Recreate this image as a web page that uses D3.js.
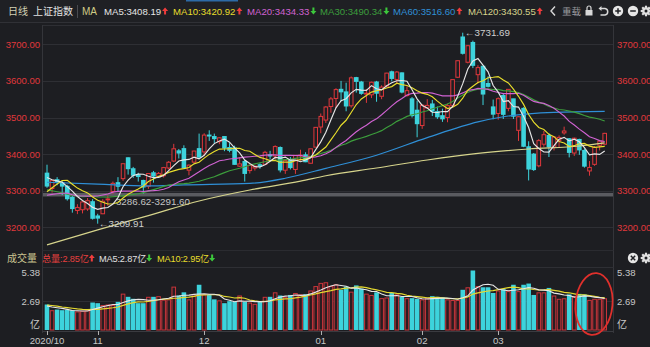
<!DOCTYPE html>
<html><head><meta charset="utf-8">
<script src="https://cdn.jsdelivr.net/npm/d3@7"></script>
<style>
html,body{margin:0;padding:0;background:#1d1e22;overflow:hidden;}
svg{display:block;}
text{font-family:"Liberation Sans","Noto Sans CJK SC",sans-serif;}
</style></head><body>
<svg id="c" width="650" height="347"></svg>
<script>
// Trading days per month
const octDays = [19,20,21,22,23,26,27,28,29,30];
const novDays = [2,3,4,5,6,9,10,11,12,13,16,17,18,19,20,23,24,25,26,27,30];
const decDays = [1,2,3,4,7,8,9,10,11,14,15,16,17,18,21,22,23,24,25,28,29,30,31];
const janDays = [4,5,6,7,8,11,12,13,14,15,18,19,20,21,22,25,26,27,28,29];
const febDays = [1,2,3,4,5,8,9,10,18,19,22,23,24,25,26];
const marDays = [1,2,3,4,5,8,9,10,11,12,15,16,17,18,19,22,23,24,25,26,29,30];

const opens = [3348,3306,3330,3322,3312,3282,3246,3248,3250,3270,
 3231,3237,3275,3298,3322,3333,3390,3360,3343,3328,3312,3349,3338,3341,3362,3381,3409,3415,3356,3378,3415,
 3406,3452,3448,3434,3448,3418,3417,3367,3380,3355,3362,3371,3372,3398,3395,3418,3356,3384,3358,3397,3398,3375,3419,
 3474,3493,3530,3552,3577,3570,3532,3609,3597,3564,3562,3597,3558,3586,3625,3604,3622,3560,3551,3520,
 3478,3526,3537,3516,3505,3500,3532,3610,3720,3651,3705,3617,3640,3593,3529,
 3511,3560,3525,3551,3465,3525,3420,3400,3368,3427,3451,3419,3437,3458,3442,3403,3440,3410,3354,3372,3424,3427];
const highs = [3371,3330,3337,3326,3316,3285,3263,3272,3280,3277,
 3237,3277,3286.62,3325,3337,3374,3391,3365,3349,3330,3347,3354,3351,3365,3381,3428,3414,3424,3372,3409,3456,
 3457,3465,3456,3446,3448,3430,3423,3391,3384,3372,3368,3375,3409,3409,3424,3421,3384,3392,3397,3412,3405,3415,3474,
 3511,3531,3556,3580,3600,3595,3612,3611,3600,3578,3598,3600,3588,3622,3628,3627,3623,3585,3556,3546,
 3536,3550,3548,3530,3524,3538,3604,3656,3731.69,3697,3710,3643,3641,3613,3549,
 3555,3567,3577,3551,3503,3528,3435,3403,3441,3463,3457,3447,3451,3475,3444,3445,3442,3416,3381,3422,3436,3458];
const lows = [3308,3295,3315,3288,3273,3240,3236,3238,3245,3221,
 3209.91,3236,3259,3291.60,3296,3327,3344,3335,3325,3292,3305,3322,3336,3336,3358,3378,3388,3360,3342,3375,3389,
 3394,3436,3430,3427,3408,3405,3371,3365,3325,3347,3355,3360,3370,3385,3384,3350,3346,3358,3346,3382,3378,3374,3419,
 3457,3485,3513,3526,3544,3517,3527,3568,3562,3540,3553,3543,3550,3582,3599,3594,3566,3557,3500,3446,
 3469,3524,3504,3496,3488,3487,3532,3608,3672,3648,3635,3593,3534,3582,3495,
 3494,3496,3517,3496,3436,3419,3328,3354,3364,3420,3392,3410,3417,3453,3391,3395,3398,3363,3341,3368,3410,3424];
const closes = [3312.67,3328.10,3325.03,3312.50,3278.00,3251.12,3254.32,3269.24,3272.74,3224.53,
 3225.12,3271.07,3277.44,3320.13,3312.16,3373.73,3360.15,3342.20,3338.68,3310.10,3346.97,3339.90,3347.30,3363.09,3377.73,3414.49,3402.82,3362.33,3369.73,3408.31,3391.76,
 3451.94,3449.38,3442.14,3444.58,3416.60,3410.18,3371.96,3373.28,3347.19,3369.12,3367.23,3366.98,3404.87,3394.90,3420.57,3356.78,3382.32,3363.11,3396.56,3397.29,3379.04,3414.45,3473.07,
 3502.96,3528.68,3550.88,3576.20,3570.11,3531.50,3608.34,3598.65,3565.90,3566.38,3596.22,3566.33,3583.09,3621.26,3606.75,3624.24,3569.43,3573.34,3505.18,3483.07,
 3533.68,3533.05,3517.31,3501.86,3496.33,3532.44,3603.49,3655.09,3675.36,3696.17,3642.44,3636.36,3564.08,3585.05,3509.08,
 3551.40,3508.59,3576.90,3503.49,3501.99,3421.41,3359.29,3357.74,3436.83,3453.08,3419.95,3446.73,3445.55,3463.07,3404.66,3443.44,3411.51,3367.06,3363.59,3418.33,3435.30,3456.68];
// Closes of the 29 sessions before the first candle (for the short moving averages)
const priorCloses = [3395.68,3410.61,3404.80,3384.98,3355.37,3292.59,3316.42,3254.63,3234.82,3260.35,
 3278.81,3295.68,3283.92,3270.44,3338.09,3316.94,3274.30,3279.71,3223.18,3219.42,
 3217.53,3224.36,3218.05,3272.08,3358.47,3359.75,3340.53,3332.18,3336.36];
// Volume in 亿
const volumes = [2.28,1.76,1.82,1.76,1.79,1.76,1.65,1.71,1.76,2.46,
 2.40,2.23,2.28,2.23,2.52,3.27,2.98,2.80,2.40,2.40,2.98,2.98,3.04,2.72,2.75,3.91,3.10,3.39,2.75,3.10,4.08,
 3.21,3.15,2.75,2.66,2.40,2.58,2.52,3.10,2.52,2.46,2.34,2.58,2.98,2.98,3.39,3.10,2.98,3.15,3.33,3.21,3.21,3.56,3.96,
 4.25,4.31,3.96,4.13,3.62,3.91,3.45,4.02,3.73,3.27,3.15,3.39,2.86,2.92,3.33,3.21,2.98,2.86,2.86,2.80,
 2.75,2.86,3.04,2.98,2.92,2.75,2.69,2.69,3.62,3.85,5.38,3.96,3.85,3.85,3.33,
 3.56,3.68,3.50,4.08,3.50,4.08,4.19,3.15,3.39,3.39,3.79,3.10,2.80,2.85,3.20,3.05,3.25,3.20,2.70,2.80,2.80,2.85];
const priorVolumes = [2.10,2.35,2.60,2.40,2.30,2.20,2.15,2.05,2.25];
// Long moving averages, read at selected sessions
const ma60Index = [0,10,20,27,40,47,55,65,75,85,90,100,110];
const ma60Value = [3323,3318,3313,3316,3320,3334,3361,3397,3445,3488,3502,3514,3516.60];
const ma120Index = [0,10,20,30,40,50,55,65,75,85,95,105,110];
const ma120Value = [3152,3193,3232,3272,3302,3326,3341,3362,3384,3402,3414,3422,3430.55];
const priceTicks = [3200,3300,3400,3500,3600,3700];

const monthKeys = [["2020",10,octDays],["2020",11,novDays],["2020",12,decDays],["2021",1,janDays],["2021",2,febDays],["2021",3,marDays]];
const dates = [];
monthKeys.forEach(([y,m,days]) => days.forEach(d => dates.push({y, m, d})));
const n = closes.length;

const RED = "#e0383c", CYAN = "#3dd3dc", BG = "#1d1e22", GRID = "#2e2f34";
const C_MA5="#e6e6e6", C_MA10="#e8de2c", C_MA20="#d062d2", C_MA30="#3c9e3c", C_MA60="#2f8fd6", C_MA120="#d6d48c";

const svg = d3.select("#c");
svg.append("rect").attr("width",650).attr("height",347).attr("fill",BG);

const left = 42.5, right = 613.5;
const x = d3.scaleLinear().domain([0, n-1]).range([47, 604.7]);
const y = d3.scaleLinear().domain([3200, 3700]).range([227.3, 44.3]);
const vmax = d3.max(volumes);
const vy = d3.scaleLinear().domain([0, vmax]).range([330, 271]);

function sma(arr, len, prior){
  const full = prior.concat(arr), p = prior.length;
  return arr.map((_, i) => { const s = i + p - len + 1; return s < 0 ? null : d3.mean(full.slice(s, i + p + 1)); });
}
const ma5 = sma(closes,5,priorCloses), ma10 = sma(closes,10,priorCloses),
      ma20 = sma(closes,20,priorCloses), ma30 = sma(closes,30,priorCloses);
const vma5 = sma(volumes,5,priorVolumes), vma10 = sma(volumes,10,priorVolumes);

// ---- header bar
const hdr = svg.append("g");
hdr.append("rect").attr("x",0).attr("y",0).attr("width",650).attr("height",22).attr("fill","#1f2024");
hdr.append("rect").attr("x",186).attr("y",0).attr("width",52).attr("height",1.5).attr("fill","#2d6aa6");
hdr.append("line").attr("x1",0).attr("x2",650).attr("y1",22.5).attr("y2",22.5).attr("stroke","#303136");
hdr.append("text").attr("x",8).attr("y",15).attr("font-size",10).attr("fill","#d4d2b4").text("日线");
hdr.append("text").attr("x",33).attr("y",15).attr("font-size",10).attr("fill","#e2e2e2").text("上证指数");
hdr.append("line").attr("x1",77.5).attr("x2",77.5).attr("y1",5).attr("y2",18).attr("stroke","#4a4b50");
hdr.append("text").attr("x",82).attr("y",15).attr("font-size",10).attr("fill","#cfcb86").text("MA");

const last = a => a[a.length-1], prev = a => a[a.length-2];
const maItems = [
  {label:"MA5", v:last(ma5), up:last(ma5)>=prev(ma5), c:C_MA5, x0:104},
  {label:"MA10", v:last(ma10), up:last(ma10)>=prev(ma10), c:C_MA10, x0:173},
  {label:"MA20", v:last(ma20), up:last(ma20)>=prev(ma20), c:C_MA20, x0:247},
  {label:"MA30", v:last(ma30), up:last(ma30)>=prev(ma30), c:C_MA30, x0:320},
  {label:"MA60", v:last(ma60Value), up:last(ma60Value)>=prev(ma60Value), c:C_MA60, x0:393},
  {label:"MA120", v:last(ma120Value), up:last(ma120Value)>=prev(ma120Value), c:C_MA120, x0:468}
];
function arrow(g, ax, ay, up){
  // small solid arrow glyph
  const col = up ? "#f03c3c" : "#3cc83c";
  const p = up
    ? `M${ax},${ay-7} L${ax+3},${ay-3.5} L${ax+1},${ay-3.5} L${ax+1},${ay} L${ax-1},${ay} L${ax-1},${ay-3.5} L${ax-3},${ay-3.5} Z`
    : `M${ax},${ay} L${ax+3},${ay-3.5} L${ax+1},${ay-3.5} L${ax+1},${ay-7} L${ax-1},${ay-7} L${ax-1},${ay-3.5} L${ax-3},${ay-3.5} Z`;
  g.append("path").attr("d",p).attr("fill",col);
}
maItems.forEach(it => {
  const t = hdr.append("text").attr("x",it.x0).attr("y",15).attr("font-size",9.6).attr("fill",it.c)
    .text(`${it.label}:${it.v.toFixed(2)}`);
  const w = t.node().getComputedTextLength();
  arrow(hdr, it.x0 + w + 4, 14.5, it.up);
});
// toolbar glyphs
hdr.append("path").attr("d","M555,6.5 L551,11 L555,15.5").attr("fill","none").attr("stroke","#d8d8d8").attr("stroke-width",1.4);
hdr.append("text").attr("x",562).attr("y",15).attr("font-size",9.5).attr("fill","#9a9a9e").text("重载");
hdr.append("rect").attr("x",585.5).attr("y",10).attr("width",7).attr("height",5.5).attr("fill","#d8d8d8");
hdr.append("path").attr("d","M587,10 L587,8 A2,2 0 0 1 591,8 L591,10").attr("fill","none").attr("stroke","#d8d8d8").attr("stroke-width",1.2);
hdr.append("path").attr("d","M600,8.5 L605,8.5 A3.3,3.3 0 0 1 605,15 L600.5,15").attr("fill","none").attr("stroke","#d8d8d8").attr("stroke-width",1.5);
hdr.append("path").attr("d","M598.5,8.5 L601.5,6 L601.5,11 Z").attr("fill","#d8d8d8");
[[618,"+"],[633,"-"]].forEach(([cx,s])=>{
  hdr.append("circle").attr("cx",cx).attr("cy",11).attr("r",5.2).attr("fill","#e6e6e6");
  hdr.append("line").attr("x1",cx-2.8).attr("x2",cx+2.8).attr("y1",11).attr("y2",11).attr("stroke","#1f2024").attr("stroke-width",1.5);
  if(s==="+") hdr.append("line").attr("x1",cx).attr("x2",cx).attr("y1",8.2).attr("y2",13.8).attr("stroke","#1f2024").attr("stroke-width",1.5);
});
function gear(g,cx,cy){
  for(let k=0;k<8;k++){
    const a=k*Math.PI/4;
    g.append("line").attr("x1",cx).attr("y1",cy).attr("x2",cx+5.3*Math.cos(a)).attr("y2",cy+5.3*Math.sin(a)).attr("stroke","#e0e0e0").attr("stroke-width",2.2);
  }
  g.append("circle").attr("cx",cx).attr("cy",cy).attr("r",3.8).attr("fill","#e0e0e0");
  g.append("circle").attr("cx",cx).attr("cy",cy).attr("r",1.5).attr("fill","#1f2024");
}
gear(hdr,646,11);

// ---- price panel frame and grid
const plot = svg.append("g");
plot.append("line").attr("x1",left).attr("x2",right).attr("y1",25.5).attr("y2",25.5).attr("stroke",GRID);
priceTicks.forEach(t=>{
  plot.append("line").attr("x1",left).attr("x2",right).attr("y1",Math.round(y(t))+0.5).attr("y2",Math.round(y(t))+0.5).attr("stroke",GRID);
  plot.append("text").attr("x",40).attr("y",y(t)+3.4).attr("text-anchor","end").attr("font-size",9.5).attr("fill",RED).text(d3.format(".2f")(t));
  plot.append("text").attr("x",617).attr("y",y(t)+3.4).attr("font-size",9.5).attr("fill",RED).text(d3.format(".2f")(t));
});
[left,right].forEach(xx=>plot.append("line").attr("x1",xx).attr("x2",xx).attr("y1",25).attr("y2",333).attr("stroke","#34353a"));

svg.append("clipPath").attr("id","pc").append("rect").attr("x",left+0.5).attr("y",26).attr("width",right-left-1).attr("height",224);

// unfilled upward gaps
const gaps = [];
for(let i=1;i<n;i++){
  if(lows[i] > highs[i-1]){
    const filled = lows.slice(i+1).some(l => l <= highs[i-1]);
    if(!filled) gaps.push({i, lo:highs[i-1], hi:lows[i]});
  }
}
gaps.forEach(g=>{
  const y0 = y(g.hi), y1 = y(g.lo), mid=(y0+y1)/2, h=Math.max(3.6,y1-y0);
  plot.append("rect").attr("x",left+0.5).attr("y",mid-h/2).attr("width",right-left-1).attr("height",h).attr("fill","#5a5b60");
  plot.append("text").attr("x",x(g.i)+3).attr("y",mid+10).attr("font-size",9.8).attr("fill","#c4c4c4")
    .text(`${g.lo.toFixed(2)}-${g.hi.toFixed(2)}`);
});

// candles
const cw = 3.6;
const cg = plot.append("g").attr("clip-path","url(#pc)");
for(let i=0;i<n;i++){
  const up = closes[i] >= opens[i];
  const col = up ? RED : CYAN;
  const cx = x(i);
  const top = y(Math.max(opens[i],closes[i])), bot = y(Math.min(opens[i],closes[i]));
  if(up){
    cg.append("line").attr("x1",cx).attr("x2",cx).attr("y1",y(highs[i])).attr("y2",top).attr("stroke",col);
    cg.append("line").attr("x1",cx).attr("x2",cx).attr("y1",bot).attr("y2",y(lows[i])).attr("stroke",col);
    cg.append("rect").attr("x",cx-cw/2).attr("y",top).attr("width",cw).attr("height",Math.max(0.8,bot-top))
      .attr("fill",BG).attr("stroke",col).attr("stroke-width",1);
  } else {
    cg.append("line").attr("x1",cx).attr("x2",cx).attr("y1",y(highs[i])).attr("y2",y(lows[i])).attr("stroke",col);
    cg.append("rect").attr("x",cx-cw/2-0.5).attr("y",top-0.5).attr("width",cw+1).attr("height",Math.max(1.2,bot-top+1)).attr("fill",col);
  }
}

// moving averages
const lineGen = d3.line().defined(d=>d[1]!=null).x(d=>x(d[0])).y(d=>y(d[1]));
const smooth = d3.line().curve(d3.curveMonotoneX).x(d=>x(d[0])).y(d=>y(d[1]));
const lg = plot.append("g").attr("clip-path","url(#pc)").attr("fill","none").attr("stroke-width",1.15);
lg.append("path").attr("d",smooth(ma120Index.map((k,j)=>[k,ma120Value[j]]))).attr("stroke",C_MA120);
lg.append("path").attr("d",smooth(ma60Index.map((k,j)=>[k,ma60Value[j]]))).attr("stroke",C_MA60);
lg.append("path").attr("d",lineGen(ma30.map((v,i)=>[i,v]))).attr("stroke",C_MA30);
lg.append("path").attr("d",lineGen(ma20.map((v,i)=>[i,v]))).attr("stroke",C_MA20);
lg.append("path").attr("d",lineGen(ma10.map((v,i)=>[i,v]))).attr("stroke",C_MA10);
lg.append("path").attr("d",lineGen(ma5.map((v,i)=>[i,v]))).attr("stroke",C_MA5);

// extreme labels
const iMax = d3.maxIndex(highs), iMin = d3.minIndex(lows);
plot.append("text").attr("x",x(iMax)+2).attr("y",y(highs[iMax])+3.5).attr("font-size",9.8).attr("fill","#cfcfcf").text("←"+highs[iMax].toFixed(2));
plot.append("text").attr("x",x(iMin)+1).attr("y",y(lows[iMin])+3.5).attr("font-size",9.8).attr("fill","#cfcfcf").text("←"+lows[iMin].toFixed(2));

// ---- volume panel
const vg = svg.append("g");
vg.append("line").attr("x1",left).attr("x2",right).attr("y1",250.5).attr("y2",250.5).attr("stroke","#2a2b30");
vg.append("line").attr("x1",left).attr("x2",right).attr("y1",267.5).attr("y2",267.5).attr("stroke",GRID);
vg.append("line").attr("x1",left).attr("x2",right).attr("y1",Math.round(vy(vmax/2))+0.5).attr("y2",Math.round(vy(vmax/2))+0.5).attr("stroke",GRID);
vg.append("line").attr("x1",left).attr("x2",right).attr("y1",331.5).attr("y2",331.5).attr("stroke","#3a3b40");

// volume header
const vh = svg.append("g");
vh.append("text").attr("x",7).attr("y",262).attr("font-size",10).attr("fill","#cbc591").text("成交量");
const vItems = [
  {t:`总量:${last(volumes).toFixed(2)}亿`, up:last(volumes)>=prev(volumes), c:"#e8403f", x0:42},
  {t:`MA5:${last(vma5).toFixed(2)}亿`, up:last(vma5)>=prev(vma5), c:"#e2e2e2", x0:99},
  {t:`MA10:${last(vma10).toFixed(2)}亿`, up:last(vma10)>=prev(vma10), c:"#e8de2c", x0:157}
];
vItems.forEach(it=>{
  const t = vh.append("text").attr("x",it.x0).attr("y",262).attr("font-size",9.2).attr("letter-spacing",-0.15).attr("fill",it.c).text(it.t);
  arrow(vh, it.x0 + t.node().getComputedTextLength() + 3, 261.5, it.up);
});
vh.append("circle").attr("cx",633).attr("cy",258).attr("r",5.2).attr("fill","#e6e6e6");
vh.append("path").attr("d","M630.8,255.8 L635.2,260.2 M635.2,255.8 L630.8,260.2").attr("stroke","#1f2024").attr("stroke-width",1.5);
gear(vh,646,258);

// volume axis labels
const vlab = [[vmax, vmax.toFixed(2)], [vmax/2, (vmax/2).toFixed(2)]];
vlab.forEach(([v,s])=>{
  vg.append("text").attr("x",40).attr("y",vy(v)+4.5).attr("text-anchor","end").attr("font-size",9.5).attr("fill","#c8c8c8").text(s);
  vg.append("text").attr("x",617).attr("y",vy(v)+4.5).attr("font-size",9.5).attr("fill","#c8c8c8").text(s);
});
vg.append("text").attr("x",40).attr("y",328).attr("text-anchor","end").attr("font-size",10).attr("fill","#c8c8c8").text("亿");
vg.append("text").attr("x",617).attr("y",328).attr("font-size",10).attr("fill","#c8c8c8").text("亿");

// volume bars
const bw = 3.6;
for(let i=0;i<n;i++){
  const up = closes[i] >= opens[i];
  const top = vy(volumes[i]), bot = vy(0);
  if(up){
    vg.append("rect").attr("x",x(i)-bw/2).attr("y",top).attr("width",bw).attr("height",bot-top)
      .attr("fill","#2a1d21").attr("stroke","#c8353b").attr("stroke-width",1);
  } else {
    vg.append("rect").attr("x",x(i)-bw/2-0.5).attr("y",top-0.5).attr("width",bw+1).attr("height",bot-top+0.5).attr("fill",CYAN);
  }
}
const vline = d3.line().defined(d=>d[1]!=null).x(d=>x(d[0])).y(d=>vy(d[1]));
vg.append("path").attr("d",vline(vma10.map((v,i)=>[i,v]))).attr("fill","none").attr("stroke","#e3d830").attr("stroke-width",1.2);
vg.append("path").attr("d",vline(vma5.map((v,i)=>[i,v]))).attr("fill","none").attr("stroke","#e6e6e6").attr("stroke-width",1.1);

// date axis
const ax = svg.append("g");
let seen = new Set();
dates.forEach((dt,i)=>{
  const key = dt.y+"-"+dt.m;
  if(seen.has(key)) return;
  seen.add(key);
  const lab = i===0 ? `${dt.y}/${String(dt.m).padStart(2,"0")}` : String(dt.m).padStart(2,"0");
  ax.append("line").attr("x1",Math.round(x(i))+0.5).attr("x2",Math.round(x(i))+0.5).attr("y1",331).attr("y2",335).attr("stroke","#b0b0b0");
  ax.append("text").attr("x",x(i)).attr("y",344).attr("text-anchor","middle").attr("font-size",9.6).attr("fill","#c8c8c8").text(lab);
});

// highlight ring around the latest volume bars
svg.append("ellipse").attr("cx",594).attr("cy",304).attr("rx",18.5).attr("ry",31)
  .attr("transform","rotate(5,594,304)").attr("fill","none").attr("stroke","#e0302c").attr("stroke-width",1.8);
</script>
</body></html>
